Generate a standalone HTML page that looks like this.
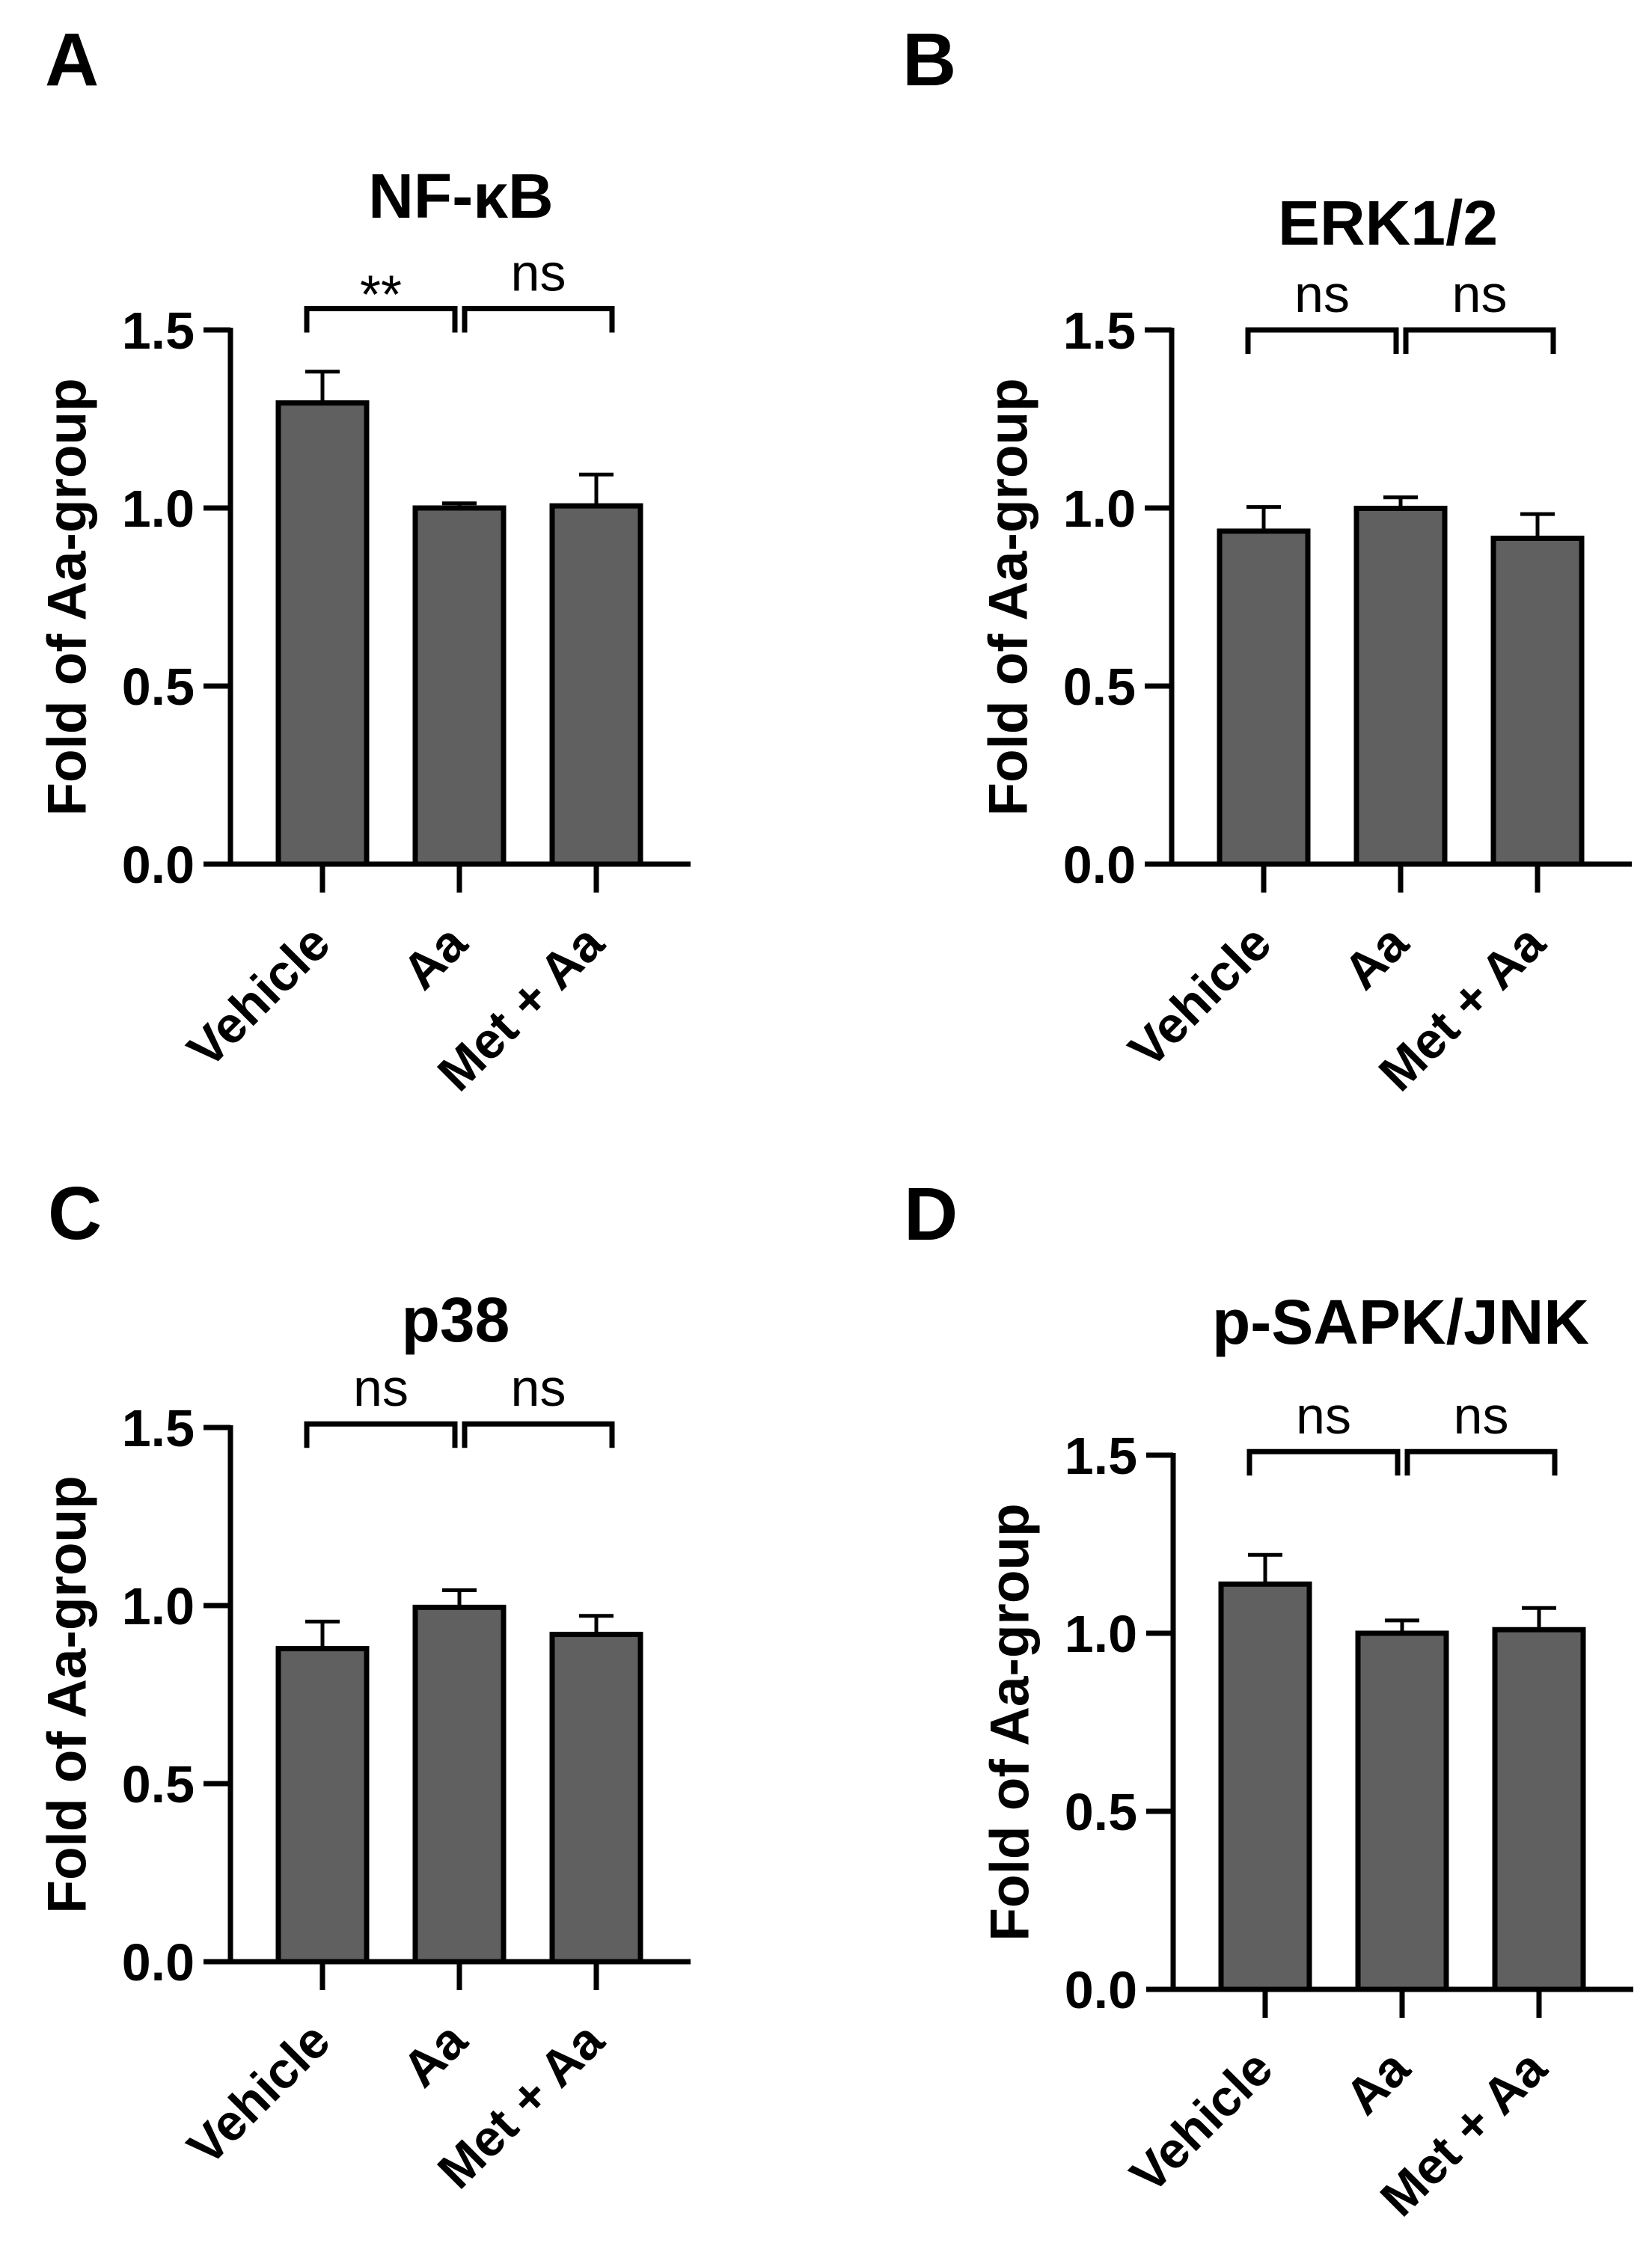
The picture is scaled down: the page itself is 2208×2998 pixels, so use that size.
<!DOCTYPE html>
<html><head><meta charset="utf-8">
<style>
html,body{margin:0;padding:0;background:#fff;}
svg{display:block;font-family:"Liberation Sans",Arial,sans-serif;}
</style></head>
<body>
<svg id="fig" width="2208" height="2998" viewBox="0 0 2208 2998" xmlns="http://www.w3.org/2000/svg">
<rect x="0" y="0" width="2208" height="2998" fill="#fff"/>
</svg>
<script>
const categories = ["Vehicle", "Aa", "Met + Aa"];
const titles = ["NF-\u03baB", "ERK1/2", "p38", "p-SAPK/JNK"];
const panelLetters = ["A", "B", "C", "D"];
const meansA = [1.295, 1.0, 1.006];
const errA = [1.383, 1.013, 1.094];
const meansB = [0.935, 0.999, 0.915];
const errB = [1.003, 1.030, 0.983];
const meansC = [0.879, 0.995, 0.919];
const errC = [0.955, 1.043, 0.971];
const meansD = [1.138, 1.0, 1.010];
const errD = [1.220, 1.036, 1.071];
const sigLeft = ["**", "ns", "ns", "ns"];
const sigRight = ["ns", "ns", "ns", "ns"];
const bracketLevel = [1.56, 1.50, 1.51, 1.51];
const yTicks = [0.0, 0.5, 1.0, 1.5];
const yTickLabels = ["0.0", "0.5", "1.0", "1.5"];

const NS = "http://www.w3.org/2000/svg";
const svg = document.getElementById("fig");
function mk(tag, attrs, parent) {
  const e = document.createElementNS(NS, tag);
  for (const k in attrs) e.setAttribute(k, attrs[k]);
  (parent || svg).appendChild(e);
  return e;
}
const layout = [
  {ox: 308, oy: 1155, tx: 616, ty: 291, lx: 60, ly: 114},
  {ox: 1566, oy: 1155, tx: 1855, ty: 327, lx: 1206, ly: 114},
  {ox: 308, oy: 2622, tx: 609, ty: 1793, lx: 64, ly: 1656},
  {ox: 1568, oy: 2659, tx: 1872, ty: 1796, lx: 1208, ly: 1657}
];
const meansAll = [meansA, meansB, meansC, meansD];
const errAll = [errA, errB, errC, errD];
const unit = 476;
const slot = 183;
const barW = 118;

layout.forEach((L, p) => {
  const g = mk("g", {});
  
  
  const yS = v => L.oy - v * unit;
  const xC = i => L.ox + 123 + i * slot;

  const letter = mk("text", {x: L.lx, y: L.ly, "font-size": 100, "font-weight": "bold"}, g);
  letter.textContent = panelLetters[p];
  
  

  const t = mk("text", {x: L.tx, y: L.ty, "font-size": 84, "font-weight": "bold", "text-anchor": "middle"}, g);
  t.textContent = titles[p];
  
  

  meansAll[p].forEach((v, i) => {
    const b = mk("rect", {x: xC(i) - barW / 2, y: yS(v), width: barW, height: v * unit, fill: "#606060", stroke: "#000", "stroke-width": 7}, g);
    
    
    const e = errAll[p][i];
    const el = mk("path", {d: `M${xC(i)} ${yS(v)} V${yS(e)} M${xC(i) - 23} ${yS(e)} H${xC(i) + 23}`, stroke: "#000", "stroke-width": 5, fill: "none"}, g);
    
    
  });

  const ax = mk("path", {d: `M${L.ox} ${yS(1.5) - 3} V${L.oy} H${L.ox + 615}`, stroke: "#000", "stroke-width": 7, fill: "none"}, g);
  
  
  yTicks.forEach((v, i) => {
    const tk = mk("line", {x1: L.ox - 36, x2: L.ox, y1: yS(v), y2: yS(v), stroke: "#000", "stroke-width": 7}, g);
    
    
    const tl = mk("text", {x: L.ox - 48, y: yS(v) + 25, "font-size": 70, "font-weight": "bold", "text-anchor": "end"}, g);
    tl.textContent = yTickLabels[i];
    
    
  });
  categories.forEach((c, i) => {
    const tk = mk("line", {x1: xC(i), x2: xC(i), y1: L.oy, y2: L.oy + 38, stroke: "#000", "stroke-width": 7}, g);
    
    
    const ax0 = xC(i) + 14, ay0 = L.oy + 110;
    const xl = mk("text", {x: ax0, y: ay0, "font-size": 68, "font-weight": "bold", "text-anchor": "end", transform: `rotate(-45 ${ax0} ${ay0})`}, g);
    xl.textContent = c;
    
    
  });
  const yt = mk("text", {x: L.ox - 218, y: yS(0.75), "font-size": 73, "font-weight": "bold", "text-anchor": "middle", "dominant-baseline": "central", transform: `rotate(-90 ${L.ox - 218} ${yS(0.75)})`}, g);
  yt.textContent = "Fold of Aa-group";
  
  

  const by = yS(bracketLevel[p]);
  const pairs = [[xC(0) - 21, xC(1) - 6, sigLeft[p]], [xC(1) + 7, xC(2) + 21, sigRight[p]]];
  pairs.forEach((pr, k) => {
    const br = mk("path", {d: `M${pr[0]} ${by + 32} V${by} H${pr[1]} V${by + 32}`, stroke: "#000", "stroke-width": 7, fill: "none"}, g);
    
    
    const st = mk("text", {x: (pr[0] + pr[1]) / 2, y: pr[2] === "**" ? by + 6 : by - 24, "font-size": pr[2] === "**" ? 72 : 70, "text-anchor": "middle"}, g);
    st.textContent = pr[2];
    
    
  });
});
</script>
</body></html>
